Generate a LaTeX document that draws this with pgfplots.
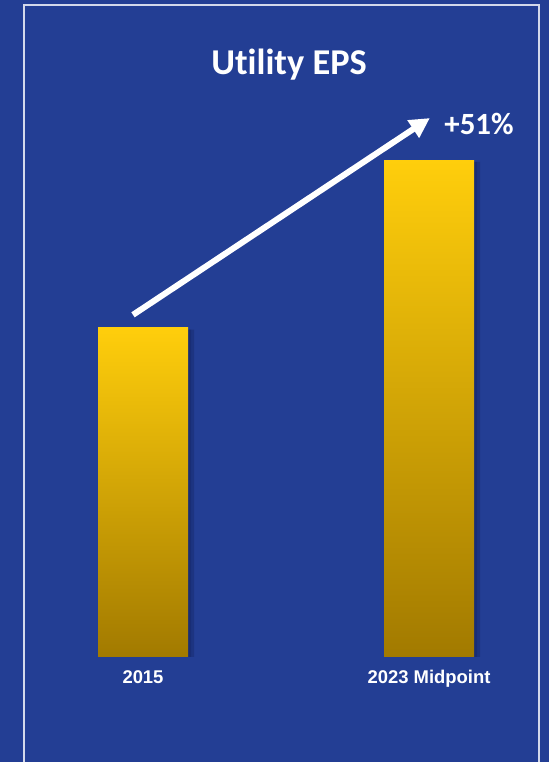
\documentclass[border=0pt]{standalone}
\usepackage{pgfplots}
\pgfplotsset{compat=1.18}
\usepackage{fontspec}
\setmainfont{Liberation Sans}
\newfontfamily\calfont[Ligatures={NoCommon}]{Carlito}
\usetikzlibrary{arrows.meta}
\definecolor{bg}{HTML}{233E94}
\definecolor{bartop}{HTML}{FFCE0C}
\definecolor{barbot}{HTML}{A27A00}
\definecolor{shade}{HTML}{17296C}
\begin{document}
\begin{tikzpicture}[x=1bp,y=1bp]
\useasboundingbox (0,0) rectangle (549,762);
\fill[bg] (0,0) rectangle (549,762);
\draw[white!80!bg, line width=1.3bp] (24,-2) -- (24,757) -- (539,757) -- (539,-2);
\node[font=\calfont\bfseries\fontsize{36.5}{40}\selectfont, text=white] at (289,697) {Utility EPS};
\begin{axis}[
  at={(57.2bp,105bp)}, anchor=south west,
  scale only axis, width=457.6bp, height=526.4bp,
  xmin=-0.3, xmax=1.3, ymin=0, ymax=1.6,
  axis line style={draw=none},
  major tick length=0pt,
  ytick=\empty,
  xtick={0,1}, xticklabels={2015,2023 Midpoint},
  xticklabel style={text=white, font=\bfseries\fontsize{18.5}{21}\selectfont, yshift=-10bp},
  clip=false,
  ybar, bar width=90bp,
]
\addplot[draw=none, fill=shade, fill opacity=0.45, bar shift=6bp] coordinates {(0,0.995) (1,1.505)};
\addplot[draw=none, fill=shade, fill opacity=0.55, bar shift=3bp] coordinates {(0,0.995) (1,1.505)};
\addplot[draw=none, top color=bartop, bottom color=barbot, bar shift=0pt] coordinates {(0,1.00)};
\addplot[draw=none, top color=bartop, bottom color=barbot, bar shift=0pt] coordinates {(1,1.51)};
\draw[white, line width=6bp, -{Triangle[length=20bp,width=20bp]}] (axis cs:-0.035,1.04) -- (axis cs:1.003,1.638);
\node[font=\calfont\bfseries\fontsize{31}{34}\selectfont, text=white] at (axis cs:1.175,1.62) {+51\%};
\end{axis}
\end{tikzpicture}
\end{document}
